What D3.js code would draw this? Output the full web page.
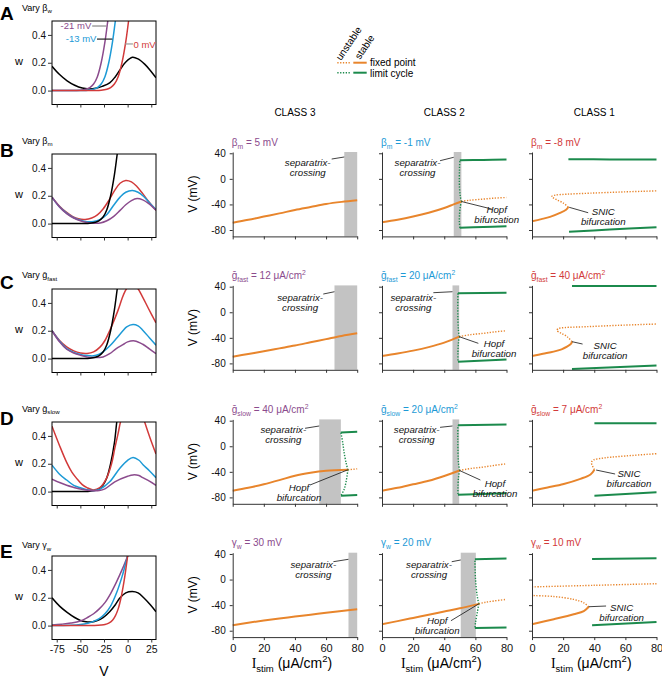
<!DOCTYPE html>
<html><head><meta charset="utf-8">
<script src="https://cdn.jsdelivr.net/npm/d3@7"></script>
<style>
body{margin:0;background:#fff;}
svg text{font-family:"Liberation Sans",Arial,Helvetica,sans-serif;}
</style>
</head><body>
<svg id="fig" width="662" height="678"></svg>
<script>
// ---------------- DATA ----------------
// Tick values / labels
const V_TICKS = [-75,-50,-25,0,25];
const W_TICKS = [0,0.2,0.4];
const I_TICKS = [0,20,40,60,80];
const VM_TICKS = [-80,-40,0,40];
const classHeaders = ["CLASS 3","CLASS 2","CLASS 1"];
const rowLetters = ["A","B","C","D","E"];

// Nullclines, [V (mV), w]
const nullA_black  = [[-80,0.175],[-72,0.115],[-64,0.07],[-56,0.038],[-48,0.018],[-41,0.012],[-34,0.016],[-27,0.03],[-19,0.055],[-13,0.1],[-8,0.15],[-2,0.205],[5,0.24],[11,0.228],[18,0.19],[24,0.145],[30,0.092]];
const nullA_purple = [[-80,0],[-65,0.0005],[-50,0.003],[-44,0.01],[-40,0.022],[-36,0.047],[-32,0.1],[-28,0.2],[-24,0.35],[-21,0.5],[-18,0.65]];
const nullA_blue   = [[-80,0],[-60,0.0005],[-42,0.003],[-36,0.01],[-32,0.022],[-28,0.047],[-24,0.1],[-20,0.2],[-16,0.35],[-13,0.5],[-10,0.65]];
const nullA_red    = [[-80,0],[-50,0.0005],[-28,0.003],[-22,0.01],[-18,0.022],[-14,0.047],[-10,0.1],[-6,0.2],[-2,0.35],[1,0.5],[4,0.65]];

const nullB_black  = [[-80,0],[-60,0.0005],[-40,0.003],[-34,0.01],[-30,0.022],[-26,0.047],[-22,0.1],[-18,0.2],[-14,0.35],[-11,0.5],[-8,0.65]];
const nullB_red    = [[-80,0.19],[-72,0.125],[-64.5,0.08],[-58,0.05],[-52,0.034],[-45,0.03],[-38,0.04],[-32,0.062],[-26,0.105],[-20,0.165],[-14,0.235],[-8,0.29],[-2,0.31],[4,0.3],[10,0.265],[16,0.215],[22,0.16],[30,0.096]];
const nullB_blue   = [[-80,0.19],[-72,0.12],[-64.5,0.075],[-57,0.042],[-50,0.024],[-43,0.014],[-36,0.015],[-29,0.03],[-22,0.065],[-15,0.13],[-8,0.19],[-2,0.225],[5,0.237],[11,0.225],[17,0.195],[23,0.15],[30,0.1]];
const nullB_purple = [[-80,0.19],[-72,0.12],[-64.5,0.072],[-57,0.04],[-50,0.02],[-43,0.008],[-36,0.002],[-29,0.004],[-22,0.02],[-15,0.05],[-8,0.095],[-2,0.135],[4,0.165],[10,0.18],[16,0.17],[22,0.145],[30,0.096]];

const nullC_black  = [[-80,0],[-60,0.0005],[-40,0.003],[-34,0.01],[-30,0.022],[-26,0.047],[-22,0.1],[-18,0.2],[-14,0.35],[-11,0.5],[-8,0.65]];
const nullC_red    = [[-80,0.2],[-72,0.13],[-64.5,0.084],[-57,0.055],[-50,0.04],[-43,0.037],[-36,0.048],[-29,0.084],[-24,0.13],[-19,0.2],[-14,0.28],[-10,0.35],[-6,0.43],[-3,0.48],[1,0.52],[5,0.53],[10,0.51],[16,0.44],[22,0.36],[30,0.257]];
const nullC_blue   = [[-80,0.2],[-72,0.125],[-64.5,0.072],[-57,0.045],[-50,0.03],[-43,0.022],[-36,0.02],[-30,0.032],[-26,0.048],[-19,0.09],[-12,0.144],[-5,0.2],[-1,0.228],[5.7,0.245],[11,0.235],[16,0.204],[23,0.15],[30,0.096]];
const nullC_purple = [[-80,0.2],[-72,0.12],[-64.5,0.067],[-57,0.04],[-50,0.024],[-43,0.012],[-36,0.007],[-26,0.012],[-19,0.035],[-12,0.072],[-5,0.1],[0,0.12],[7.5,0.127],[16,0.103],[23,0.07],[30,0.036]];

const nullD_black  = [[-80,0],[-60,0.0005],[-40,0.003],[-34,0.01],[-30,0.022],[-26,0.047],[-22,0.1],[-18,0.2],[-14,0.35],[-11.5,0.5],[-8.5,0.65]];
const nullD_red    = [[-80,0.47],[-72,0.33],[-64.5,0.21],[-59,0.14],[-54,0.095],[-48,0.05],[-43,0.028],[-36.4,0.012],[-29.4,0.028],[-22.4,0.095],[-17,0.2],[-13.6,0.31],[-10,0.42],[-7.6,0.5],[-2,0.63],[5,0.7],[12,0.63],[18,0.5],[24,0.38],[30,0.27]];
const nullD_blue   = [[-80,0.19],[-72,0.125],[-64.5,0.083],[-57,0.045],[-50,0.028],[-43,0.014],[-38,0.008],[-33,0.01],[-29,0.018],[-19,0.07],[-8,0.17],[0,0.225],[5.7,0.245],[12,0.225],[16,0.195],[23,0.15],[30,0.1]];
const nullD_purple = [[-80,0.09],[-72,0.065],[-64.5,0.045],[-57,0.03],[-50,0.018],[-40,0.008],[-30,0.008],[-24,0.02],[-13.6,0.07],[0,0.11],[5.7,0.12],[12,0.115],[16,0.1],[23,0.075],[30,0.045]];

const nullE_black  = [[-80,0.2],[-72,0.14],[-64,0.095],[-56,0.058],[-50,0.037],[-44,0.027],[-38,0.026],[-32,0.036],[-26,0.058],[-19,0.1],[-13,0.15],[-8,0.2],[-2,0.235],[5,0.245],[11,0.235],[17,0.2],[24,0.15],[30,0.1]];
const nullE_red    = [[-80,0],[-50,0.0003],[-35,0.001],[-28,0.004],[-24,0.008],[-20,0.018],[-16,0.039],[-13,0.07],[-10,0.12],[-7,0.2],[-4,0.31],[-2,0.4],[0,0.5],[2,0.6]];
const nullE_blue   = [[-80,0.0003],[-60,0.002],[-50,0.007],[-42,0.017],[-36,0.03],[-30,0.05],[-24,0.085],[-18,0.14],[-12,0.23],[-6,0.35],[0,0.5],[4,0.6]];
const nullE_purple = [[-80,0.005],[-70,0.01],[-60,0.018],[-50,0.033],[-42,0.06],[-36,0.085],[-30,0.12],[-24,0.165],[-18,0.23],[-12,0.31],[-6,0.4],[0,0.5],[4,0.57]];

// Bifurcation diagrams, [Istim (uA/cm2), V (mV)]
const B1_fpStable = [[0,-68.5],[10,-64],[20,-59],[30,-54],[40,-48.7],[50,-44],[60,-39.3],[70,-36],[80,-33.5]];
const B1_band = [71.7,80];
const B2_fpStable = [[0,-68],[10,-64],[20,-59],[30,-53],[40,-45.5],[46,-40],[51,-35.4]];
const B2_fpUnstable = [[51,-35.4],[56,-33.5],[64.8,-31.7],[72,-30.2],[80,-29.2]];
const B2_lcUnstableUp = [[51,-35.4],[50.3,-27],[49.8,-14],[49.7,2],[49.8,17],[50,29.2]];
const B2_lcUnstableLo = [[51,-35.4],[50.3,-44],[49.8,-55],[49.7,-66],[50,-76.6]];
const B2_lcStableUp = [[50,29.2],[65,29.6],[80,30.2]];
const B2_lcStableLo = [[50,-76.6],[65,-75.3],[80,-74]];
const B2_band = [46.1,51];
const B3_fpStable = [[0,-66.3],[6,-63],[11.6,-59.5],[18,-53.3],[21.9,-48.2],[23.4,-44]];
const B3_fpUnstable = [[23.4,-44],[20.2,-37.9],[15.9,-32.7],[13.3,-29.2],[12.7,-27.6],[14.8,-25.5],[22.4,-24],[37.4,-22.4],[58.9,-20.4],[80,-18.8]];
const B3_lcStableUp = [[23.4,30.7],[50,30.4],[80,30.2]];
const B3_lcStableLo = [[23.8,-82.7],[50,-79.3],[80,-75.6]];

const C1_fpStable = [[0,-69.5],[10,-65.2],[20,-61],[30,-56.5],[40,-52],[50,-47],[60,-42],[70,-37],[80,-33]];
const C1_band = [65.4,80];
const C2_fpStable = [[0,-68.5],[10,-64.5],[20,-60],[30,-54.5],[40,-47.5],[49.6,-38.2]];
const C2_fpUnstable = [[49.6,-38.2],[57,-35],[65,-33],[72,-30.8],[80,-28.9]];
const C2_lcUnstableUp = [[49.6,-38.2],[49.1,-28],[48.8,-12],[48.7,8],[48.8,29.6]];
const C2_lcUnstableLo = [[49.6,-38.2],[49.1,-48],[48.8,-62],[48.8,-77.4]];
const C2_lcStableUp = [[48.8,29.6],[80,30.6]];
const C2_lcStableLo = [[48.8,-77.4],[80,-73.7]];
const C2_band = [45.3,49.6];
const C3_fpStable = [[0,-68.5],[7,-65],[13.9,-61.6],[19,-58],[22.5,-53.9],[25,-49.5],[25.7,-46]];
const C3_fpUnstable = [[25.7,-46],[22.5,-38],[18.5,-32.5],[16,-28.5],[17,-25.5],[21,-24],[35,-22.6],[55,-20.5],[80,-18.4]];
const C3_lcStableUp = [[25.7,41],[80,41]];
const C3_lcStableLo = [[25.7,-88.8],[80,-83.1]];

const D1_fpStable = [[0,-69.5],[10,-65],[20,-59.5],[30,-53],[40,-46],[50,-41.5],[60,-38.5],[74,-36.8]];
const D1_fpUnstable = [[74,-36.8],[80,-35.3]];
const D1_lcUnstableUp = [[74,-36.8],[73,-27.4],[71.7,-11.6],[70.8,4.2],[69.8,18],[69.5,21.6]];
const D1_lcUnstableLo = [[74,-36.8],[73,-53.7],[71.7,-66.8],[69.6,-77.4]];
const D1_lcStableUp = [[69.5,21.6],[80,22.6]];
const D1_lcStableLo = [[69.6,-77.4],[80,-76.3]];
const D1_band = [55.6,69.5];
const D2_fpStable = [[0,-69.5],[10,-65],[20,-59.5],[30,-54],[40,-46.5],[49.8,-37.9]];
const D2_fpUnstable = [[49.8,-37.9],[58,-34.5],[65,-32.6],[72,-30],[80,-27.4]];
const D2_lcUnstableUp = [[49.8,-37.9],[49.1,-25],[48.8,-5],[48.7,15],[48.8,33]];
const D2_lcUnstableLo = [[49.8,-37.9],[49.1,-50],[48.8,-65],[48.8,-76]];
const D2_lcStableUp = [[48.8,33],[80,34]];
const D2_lcStableLo = [[48.8,-76],[80,-73.4]];
const D2_band = [45.3,49.6];
const D3_fpStable = [[0,-69.5],[10,-64.5],[20.4,-59],[31.1,-51],[37.6,-44.2],[40.1,-36.8]];
const D3_fpUnstable = [[40.1,-36.8],[38.8,-30.5],[38.2,-25.5],[39.5,-21.5],[46,-18.4],[57,-15.8],[80,-11.6]];
const D3_lcStableUp = [[40.1,35.8],[80,35.8]];
const D3_lcStableLo = [[40.1,-77.4],[80,-72.1]];

const E1_fpStable = [[0,-71.3],[10,-67.5],[20,-64],[30,-60.8],[40,-57.9],[50,-55],[60,-52],[70,-49.2],[80,-46.6]];
const E1_band = [74.4,80];
const E2_fpStable = [[0,-69.8],[10,-65],[20,-60],[30,-55],[40,-50],[50,-45],[62.2,-38]];
const E2_fpUnstable = [[62.2,-38],[66,-35.8],[72,-33.5],[80,-31]];
const E2_lcUnstableUp = [[62.2,-38],[61.2,-26],[60.1,0],[59.7,31.8]];
const E2_lcUnstableLo = [[62.2,-38],[61.2,-51.8],[60.1,-67.2],[59.7,-75.9]];
const E2_lcStableUp = [[59.7,31.8],[80,32.8]];
const E2_lcStableLo = [[59.7,-75.9],[80,-74.9]];
const E2_band = [50.6,60.3];
const E3_fpStable = [[0,-69.8],[14,-62],[26.8,-54.3],[33.3,-49.2],[36.5,-42.5]];
const E3_fpUnstableMid = [[36.5,-42.5],[33.3,-36.3],[26.8,-31.1],[14,-26.5],[0,-25]];
const E3_fpUnstableTop = [[0,-11.5],[40,-9],[80,-6.5]];
const E3_lcStableUp = [[38.6,32.3],[80,33.3]];
const E3_lcStableLo = [[38.6,-71.3],[80,-66.2]];

// ---------------- STYLE / LAYOUT ----------------
const COL = {purple:"#8b4b8d", blue:"#1d9ad6", red:"#d23a3a", black:"#000",
             orange:"#e8852c", green:"#1b8a4c", band:"#c3c3c3", axis:"#333"};
const FONT = "'Liberation Sans', Arial, Helvetica, sans-serif";
const leftTops = [21,154,289,422,556], leftH = 83.5, leftX0 = 52, leftX1 = 156;
const rightTops = [null,152,285.4,419.4,552.7], rightH = 84.4;
const colX = [232.7,382,532], colW = 124.5;
const letterY = [20,157,289,425,558];
const varyY = [10.5,143.5,278,411.5,548];

const svg = d3.select("#fig");

function richText(g, x, y, parts, o = {}) {
  const size = o.size || 10;
  const t = g.append("text").attr("x", x).attr("y", y)
    .attr("font-size", size).attr("fill", o.fill || "#000")
    .attr("text-anchor", o.anchor || "start");
  if (o.italic) t.attr("font-style", "italic");
  if (o.weight) t.attr("font-weight", o.weight);
  if (o.transform) t.attr("transform", o.transform);
  let cur = 0;
  parts.forEach(p => {
    const [s, k, fam] = p;
    const off = k === "sub" ? size * 0.3 : k === "sup" ? -size * 0.42 : 0;
    const ts = t.append("tspan").text(s).attr("dy", off - cur);
    cur = off;
    if (k) ts.attr("font-size", size * 0.68);
    if (fam) ts.attr("font-family", fam);
  });
  return t;
}

function styleAxis(sel, size) {
  sel.attr("font-family", FONT).attr("font-size", size);
  sel.selectAll("line").attr("stroke", COL.axis);
  sel.selectAll("path").attr("stroke", COL.axis);
  sel.selectAll("text").attr("fill", "#111");
}

// ---------------- LEFT PANELS (nullclines) ----------------
const leftPanels = [
  {vary:[["Vary β"],["w","sub"]], curves:[[nullA_black,"black"],[nullA_purple,"purple"],[nullA_blue,"blue"],[nullA_red,"red"]]},
  {vary:[["Vary β"],["m","sub"]], curves:[[nullB_red,"red"],[nullB_blue,"blue"],[nullB_purple,"purple"],[nullB_black,"black"]]},
  {vary:[["Vary \u1E21"],["fast","sub"]], curves:[[nullC_red,"red"],[nullC_blue,"blue"],[nullC_purple,"purple"],[nullC_black,"black"]]},
  {vary:[["Vary \u1E21"],["slow","sub"]], curves:[[nullD_black,"black"],[nullD_red,"red"],[nullD_blue,"blue"],[nullD_purple,"purple"]]},
  {vary:[["Vary γ"],["w","sub"]], curves:[[nullE_black,"black"],[nullE_purple,"purple"],[nullE_blue,"blue"],[nullE_red,"red"]]}
];

leftPanels.forEach((p, i) => {
  const top = leftTops[i];
  const x = d3.scaleLinear().domain([-80, 30]).range([leftX0, leftX1]);
  const y = d3.scaleLinear().domain([-0.1, 0.5]).range([top + leftH, top]);
  const g = svg.append("g");
  const cid = "clipL" + i;
  svg.append("clipPath").attr("id", cid).append("rect")
    .attr("x", leftX0).attr("y", top).attr("width", leftX1 - leftX0).attr("height", leftH);
  const line = d3.line().x(d => x(d[0])).y(d => y(d[1])).curve(d3.curveCatmullRom.alpha(0.5));
  const cg = g.append("g").attr("clip-path", `url(#${cid})`);
  p.curves.forEach(([data, c]) => {
    cg.append("path").attr("d", line(data)).attr("fill", "none")
      .attr("stroke", COL[c]).attr("stroke-width", 1.5).attr("stroke-linejoin", "round");
  });
  g.append("rect").attr("x", leftX0).attr("y", top).attr("width", leftX1 - leftX0).attr("height", leftH)
    .attr("fill", "none").attr("stroke", "#000").attr("stroke-width", 1);
  const ya = d3.axisLeft(y).tickValues(W_TICKS).tickFormat(d3.format(".1f")).tickSize(4).tickSizeOuter(0).tickPadding(2);
  g.append("g").attr("transform", `translate(${leftX0},0)`).call(ya)
    .call(s => s.select(".domain").remove()).call(s => styleAxis(s, 10));
  const xa = d3.axisBottom(x).tickValues(V_TICKS).tickSize(3).tickSizeOuter(0).tickPadding(3)
    .tickFormat(i === 4 ? (d => String(d)) : () => "");
  g.append("g").attr("transform", `translate(0,${top + leftH})`).call(xa)
    .call(s => s.select(".domain").remove()).call(s => styleAxis(s, 10.5));
  // labels
  g.append("text").attr("x", 19).attr("y", top + 44).attr("text-anchor", "middle")
    .attr("font-size", 11).text("w");
  g.append("text").attr("x", 0).attr("y", letterY[i]).attr("font-size", 19)
    .attr("font-weight", "bold").text(rowLetters[i]);
  richText(g, 22, varyY[i], p.vary, {size: 9});
  if (i === 0) {
    // value labels of panel A
    const lab = [
      {t:"-21 mV", c:"purple", at:[-38.5,0.44], anchor:"end", lead:[[-37.5,0.464],[-22.5,0.464]], lc:"#888"},
      {t:"-13 mV", c:"blue", at:[-33,0.347], anchor:"end", lead:[[-32.4,0.37],[-16.2,0.37]], lc:"#222"},
      {t:"0 mV", c:"red", at:[6.2,0.306], anchor:"start", lead:[[-2.6,0.335],[5.6,0.335]], lc:"#999"}
    ];
    lab.forEach(l => {
      g.append("line").attr("x1", x(l.lead[0][0])).attr("y1", y(l.lead[0][1]))
        .attr("x2", x(l.lead[1][0])).attr("y2", y(l.lead[1][1]))
        .attr("stroke", l.lc).attr("stroke-width", 1.2);
      g.append("text").attr("x", x(l.at[0])).attr("y", y(l.at[1])).attr("text-anchor", l.anchor)
        .attr("font-size", 9.5).attr("fill", COL[l.c]).text(l.t);
    });
  }
  if (i === 4) {
    g.append("text").attr("x", 104).attr("y", 676).attr("text-anchor", "middle")
      .attr("font-size", 14).text("V");
  }
});

// ---------------- RIGHT PANELS (bifurcation diagrams) ----------------
const SEP = ["separatrix-", "crossing"], HOPF = ["Hopf", "bifurcation"], SNIC = ["SNIC", "bifurcation"];
const bifPlots = [
  {row:1,col:0,title:[["β"],["m","sub"],[" = 5 mV"]],band:B1_band,fpS:[B1_fpStable],fpU:[],lcS:[],lcU:[],
   notes:[{lines:SEP,at:[48.2,20.6],lead:[[63.6,31],[71.7,34.2]]}]},
  {row:1,col:1,title:[["β"],["m","sub"],[" = -1 mV"]],band:B2_band,fpS:[B2_fpStable],fpU:[B2_fpUnstable],
   lcS:[B2_lcStableUp,B2_lcStableLo],lcU:[B2_lcUnstableUp,B2_lcUnstableLo],
   notes:[{lines:SEP,at:[22.8,20.6],lead:[[37.3,28.4],[46.1,33.7]]},{lines:HOPF,at:[73.7,-53],lead:[[51,-35.4],[70.5,-47.2]]}]},
  {row:1,col:2,title:[["β"],["m","sub"],[" = -8 mV"]],band:null,fpS:[B3_fpStable],fpU:[B3_fpUnstable],
   lcS:[B3_lcStableUp,B3_lcStableLo],lcU:[],
   notes:[{lines:SNIC,at:[45.8,-56.6],lead:[[23.9,-44.5],[36.1,-53]]}]},

  {row:2,col:0,title:[["\u1E21"],["fast","sub"],[" = 12 μA/cm"],["2","sup"]],band:C1_band,fpS:[C1_fpStable],fpU:[],lcS:[],lcU:[],
   notes:[{lines:SEP,at:[43.3,17.6],lead:[[58.2,28.5],[65.4,32.1]]}]},
  {row:2,col:1,title:[["\u1E21"],["fast","sub"],[" = 20 μA/cm"],["2","sup"]],band:C2_band,fpS:[C2_fpStable],fpU:[C2_fpUnstable],
   lcS:[C2_lcStableUp,C2_lcStableLo],lcU:[C2_lcUnstableUp,C2_lcUnstableLo],
   notes:[{lines:SEP,at:[20.1,17.6],lead:[[33,30.6],[45.3,32.1]]},{lines:HOPF,at:[72,-54],lead:[[49.6,-38.2],[61.9,-48.6]]}]},
  {row:2,col:2,title:[["\u1E21"],["fast","sub"],[" = 40 μA/cm"],["2","sup"]],band:null,fpS:[C3_fpStable],fpU:[C3_fpUnstable],
   lcS:[C3_lcStableUp,C3_lcStableLo],lcU:[],
   notes:[{lines:SNIC,at:[47,-58],lead:[[25.7,-46],[32.5,-49.7]]}]},

  {row:3,col:0,title:[["\u1E21"],["slow","sub"],[" = 40 μA/cm"],["2","sup"]],band:D1_band,fpS:[D1_fpStable],fpU:[D1_fpUnstable],
   lcS:[D1_lcStableUp,D1_lcStableLo],lcU:[D1_lcUnstableUp,D1_lcUnstableLo],
   notes:[{lines:SEP,at:[32.5,20.2],lead:[[46.5,28.1],[55.6,31.7]]},{lines:HOPF,at:[42.6,-70],lead:[[74,-36.8],[49.7,-60.6]]}]},
  {row:3,col:1,title:[["\u1E21"],["slow","sub"],[" = 20 μA/cm"],["2","sup"]],band:D2_band,fpS:[D2_fpStable],fpU:[D2_fpUnstable],
   lcS:[D2_lcStableUp,D2_lcStableLo],lcU:[D2_lcUnstableUp,D2_lcUnstableLo],
   notes:[{lines:SEP,at:[22.3,20.6],lead:[[37.3,29.6],[45.3,31.7]]},{lines:HOPF,at:[72.6,-64.3],lead:[[49.8,-37.9],[63.2,-52.8]]}]},
  {row:3,col:2,title:[["\u1E21"],["slow","sub"],[" = 7 μA/cm"],["2","sup"]],band:null,fpS:[D3_fpStable],fpU:[D3_fpUnstable],
   lcS:[D3_lcStableUp,D3_lcStableLo],lcU:[],
   notes:[{lines:SNIC,at:[62.3,-48.6],lead:[[41.2,-37.2],[53.4,-43.4]]}]},

  {row:4,col:0,title:[["γ"],["w","sub"],[" = 30 mV"]],band:E1_band,fpS:[E1_fpStable],fpU:[],lcS:[],lcU:[],
   notes:[{lines:SEP,at:[51.8,18],lead:[[64.7,27.9],[74.4,31.7]]}]},
  {row:4,col:1,title:[["γ"],["w","sub"],[" = 20 mV"]],band:E2_band,fpS:[E2_fpStable],fpU:[E2_fpUnstable],
   lcS:[E2_lcStableUp,E2_lcStableLo],lcU:[E2_lcUnstableUp,E2_lcUnstableLo],
   notes:[{lines:SEP,at:[30.2,18],lead:[[44.8,27.9],[50.6,30.6]]},{lines:HOPF,at:[35.5,-69.6],lead:[[62.2,-38],[44.3,-64.4]]}]},
  {row:4,col:2,title:[["γ"],["w","sub"],[" = 10 mV"]],band:null,fpS:[E3_fpStable],fpU:[E3_fpUnstableMid,E3_fpUnstableTop],
   lcS:[E3_lcStableUp,E3_lcStableLo],lcU:[],
   notes:[{lines:SNIC,at:[57.6,-49.2],lead:[[36.5,-42.5],[47.6,-41.4]]}]}
];
const titleColors = ["purple","blue","red"];

bifPlots.forEach(p => {
  const top = rightTops[p.row], x0 = colX[p.col];
  const x = d3.scaleLinear().domain([0, 80]).range([x0, x0 + colW]);
  const y = d3.scaleLinear().domain([-90, 42]).range([top + rightH, top]);
  const g = svg.append("g");
  const line = d3.line().x(d => x(d[0])).y(d => y(d[1])).curve(d3.curveCatmullRom.alpha(0.5));
  if (p.band) {
    g.append("rect").attr("x", x(p.band[0])).attr("y", y(42)).attr("width", x(p.band[1]) - x(p.band[0]))
      .attr("height", y(-90) - y(42)).attr("fill", COL.band);
  }
  const draw = (arr, color, dashed) => arr.forEach(d => {
    const path = g.append("path").attr("d", line(d)).attr("fill", "none").attr("stroke", color)
      .attr("stroke-width", dashed ? 1.4 : 2).attr("stroke-linejoin", "round");
    if (dashed) path.attr("stroke-dasharray", "1.3,1.5");
  });
  draw(p.fpU, COL.orange, true);
  draw(p.lcU, COL.green, true);
  draw(p.fpS, COL.orange, false);
  draw(p.lcS, COL.green, false);
  // axes
  const ya = d3.axisLeft(y).tickValues(VM_TICKS).tickSize(3).tickSizeOuter(0).tickPadding(4)
    .tickFormat(p.col === 0 ? (d => String(d)) : () => "");
  g.append("g").attr("transform", `translate(${x0},0)`).call(ya).call(s => styleAxis(s, 10));
  const xa = d3.axisBottom(x).tickValues(I_TICKS).tickSize(3).tickSizeOuter(0).tickPadding(4)
    .tickFormat(p.row === 4 ? (d => String(d)) : () => "");
  g.append("g").attr("transform", `translate(0,${top + rightH})`).call(xa).call(s => styleAxis(s, 11));
  // title
  richText(g, x0 - 1, top - 6.5, p.title, {size: 10, fill: COL[titleColors[p.col]]});
  // annotations
  p.notes.forEach(n => {
    g.append("line").attr("x1", x(n.lead[0][0])).attr("y1", y(n.lead[0][1]))
      .attr("x2", x(n.lead[1][0])).attr("y2", y(n.lead[1][1]))
      .attr("stroke", "#111").attr("stroke-width", 0.8);
    n.lines.forEach((s, k) => {
      g.append("text").attr("x", x(n.at[0])).attr("y", y(n.at[1]) + k * 10)
        .attr("text-anchor", "middle").attr("font-style", "italic").attr("font-size", 9.7)
        .attr("fill", "#111").text(s);
    });
  });
  if (p.col === 0) {
    svg.append("text").attr("transform", `translate(197,${top + rightH / 2}) rotate(-90)`)
      .attr("text-anchor", "middle").attr("font-size", 12).text("V (mV)");
  }
  if (p.row === 4) {
    richText(svg, x0 + colW / 2 - 3, 668,
      [["I", null, "'Liberation Serif', 'Times New Roman', serif"], ["stim", "sub"], [" (μA/cm"], ["2", "sup"], [")"]],
      {size: 14, anchor: "middle"});
  }
});

// column headers
classHeaders.forEach((h, c) => {
  svg.append("text").attr("x", colX[c] + colW / 2).attr("y", 116).attr("text-anchor", "middle")
    .attr("font-size", 10).text(h);
});

// ---------------- LEGEND ----------------
const legend = svg.append("g");
const legRows = [{y:62.7, color:COL.orange, label:"fixed point", ty:66.3},
                 {y:72.7, color:COL.green, label:"limit cycle", ty:76.6}];
legRows.forEach(r => {
  legend.append("line").attr("x1", 337.3).attr("x2", 350).attr("y1", r.y).attr("y2", r.y)
    .attr("stroke", r.color).attr("stroke-width", 1.4).attr("stroke-dasharray", "1.3,1.5");
  legend.append("line").attr("x1", 353.3).attr("x2", 366.7).attr("y1", r.y).attr("y2", r.y)
    .attr("stroke", r.color).attr("stroke-width", 2);
  legend.append("text").attr("x", 370).attr("y", r.ty).attr("font-size", 10).text(r.label);
});
legend.append("text").attr("transform", "translate(341,61) rotate(-56)").attr("font-size", 10).text("unstable");
legend.append("text").attr("transform", "translate(360,60) rotate(-56)").attr("font-size", 10).text("stable");
</script>
</body></html>
